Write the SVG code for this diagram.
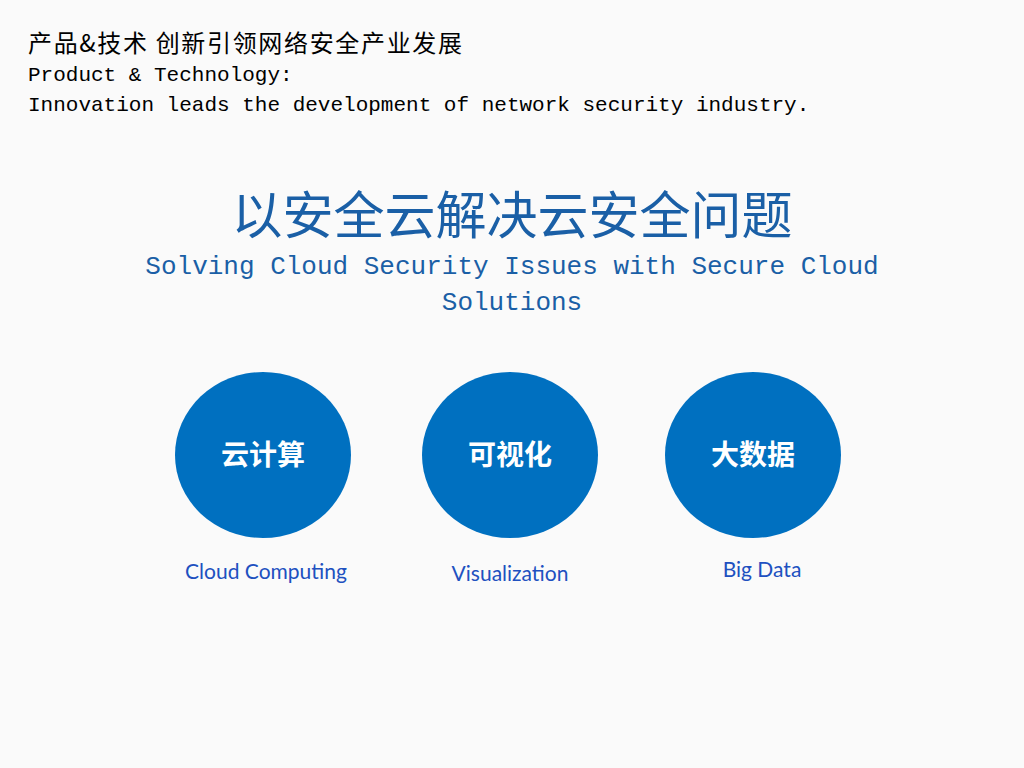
<svg xmlns="http://www.w3.org/2000/svg" width="1024" height="768" viewBox="0 0 1024 768">
<style>
.hd{font-family:"Liberation Mono","Noto Sans CJK SC",monospace;font-size:21px;fill:#000}
.hdc{font-family:"Noto Sans CJK SC",sans-serif;font-size:24px;fill:#000}
.title{font-family:"Noto Sans CJK SC",sans-serif;font-size:51px;fill:#1a5fa6;text-anchor:middle}
.sub{font-family:"Liberation Mono",monospace;font-size:26px;fill:#1a5fa6;text-anchor:middle}
.node{fill:#0070c0}
.nl{font-family:"Noto Sans CJK SC",sans-serif;font-size:28px;font-weight:bold;fill:#fff;text-anchor:middle}
.cap{font-family:Lato,"Noto Sans",sans-serif;font-size:21px;fill:#2050c0;text-anchor:middle}
</style>
<rect width="1024" height="768" fill="#fafafa"/>
<text class="hdc" x="28" y="52" textLength="434" lengthAdjust="spacing">产品&amp;技术 创新引领网络安全产业发展</text>
<text class="hd" x="28" y="81">Product &amp; Technology:</text>
<text class="hd" x="28" y="111">Innovation leads the development of network security industry.</text>
<text class="title" x="512" y="234">以安全云解决云安全问题</text>
<text class="sub" x="512" y="274">Solving Cloud Security Issues with Secure Cloud</text>
<text class="sub" x="512" y="310">Solutions</text>
<g id="cloud">
<ellipse class="node" cx="263" cy="455" rx="88" ry="83"/>
<text class="nl" x="263" y="465">云计算</text>
<text class="cap" x="266" y="579">Cloud Computing</text>
</g>
<g id="vis">
<ellipse class="node" cx="510" cy="455" rx="88" ry="83"/>
<text class="nl" x="510" y="465">可视化</text>
<text class="cap" x="510" y="581">Visualization</text>
</g>
<g id="bigdata">
<ellipse class="node" cx="753" cy="455" rx="88" ry="83"/>
<text class="nl" x="753" y="465">大数据</text>
<text class="cap" x="762" y="577">Big Data</text>
</g>
<g id="connectors"/>
</svg>
